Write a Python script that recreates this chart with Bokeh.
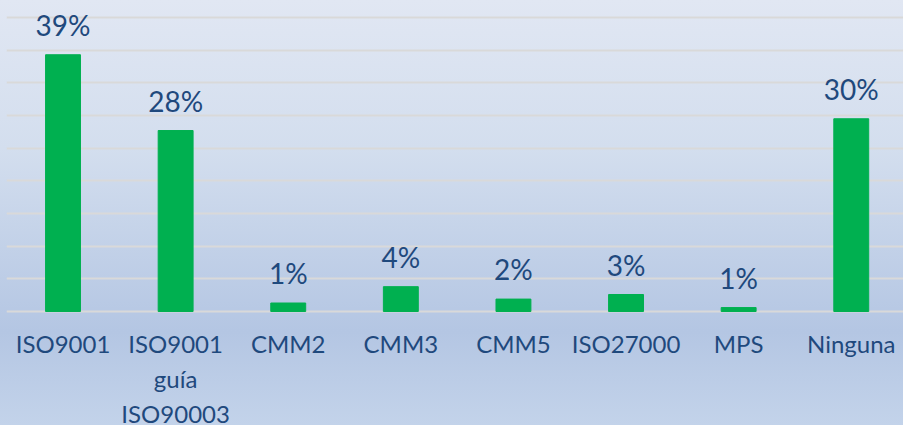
from bokeh.plotting import figure
from bokeh.models import ColumnDataSource, LabelSet, Range1d, FixedTicker
from bokeh.core.properties import value
from bokeh.embed import file_html
from bokeh.resources import INLINE

categories = ["ISO9001", "ISO9001\nguía\nISO90003", "CMM2", "CMM3", "CMM5", "ISO27000", "MPS", "Ninguna"]
values = [39.3, 27.7, 1.3, 3.8, 1.9, 2.6, 0.6, 29.5]
value_labels = ["39%", "28%", "1%", "4%", "2%", "3%", "1%", "30%"]
grid_ticks = [0, 5, 10, 15, 20, 25, 30, 35, 40, 45]

xs = list(range(len(categories)))
src = ColumnDataSource(dict(x=xs, top=values, label=value_labels))

TEXT = "#1F497D"
FONT = "Lato"

p = figure(width=903, height=425, output_backend="svg", toolbar_location=None,
           x_range=Range1d(-0.502, 7.464), y_range=Range1d(-17.45, 47.602),
           min_border_left=6, min_border_right=0, min_border_top=0, min_border_bottom=0)
p.styles = {"background": "linear-gradient(to bottom, #e1e7f3 0%, #d3deee 35%, #b4c6e3 78%, #c3d3ea 100%)"}
p.background_fill_alpha = 0
p.border_fill_alpha = 0
p.outline_line_color = None

p.vbar(x="x", top="top", bottom=0, width=0.31, source=src, fill_color="#00B050", line_color="#00B050")

p.add_layout(LabelSet(x="x", y="top", text="label", source=src, text_align="center",
                      text_baseline="alphabetic", y_offset=19, text_font=value(FONT),
                      text_font_size="28px", text_color=TEXT))

p.yaxis.visible = False
p.xgrid.visible = False
p.ygrid.ticker = FixedTicker(ticks=grid_ticks)
p.ygrid.grid_line_color = "#d9d9d9"
p.ygrid.grid_line_width = 2

ax = p.xaxis[0]
ax.fixed_location = 0
ax.ticker = FixedTicker(ticks=xs)
ax.major_label_overrides = {i: c for i, c in zip(xs, categories)}
ax.axis_line_color = None
ax.major_tick_line_color = None
ax.minor_tick_line_color = None
ax.major_tick_out = 0
ax.major_tick_in = 0
ax.major_label_standoff = 18
ax.major_label_text_font = FONT
ax.major_label_text_font_size = "24px"
ax.major_label_text_color = TEXT
ax.major_label_text_line_height = 1.2

open("out.html", "w").write(file_html(p, INLINE))
